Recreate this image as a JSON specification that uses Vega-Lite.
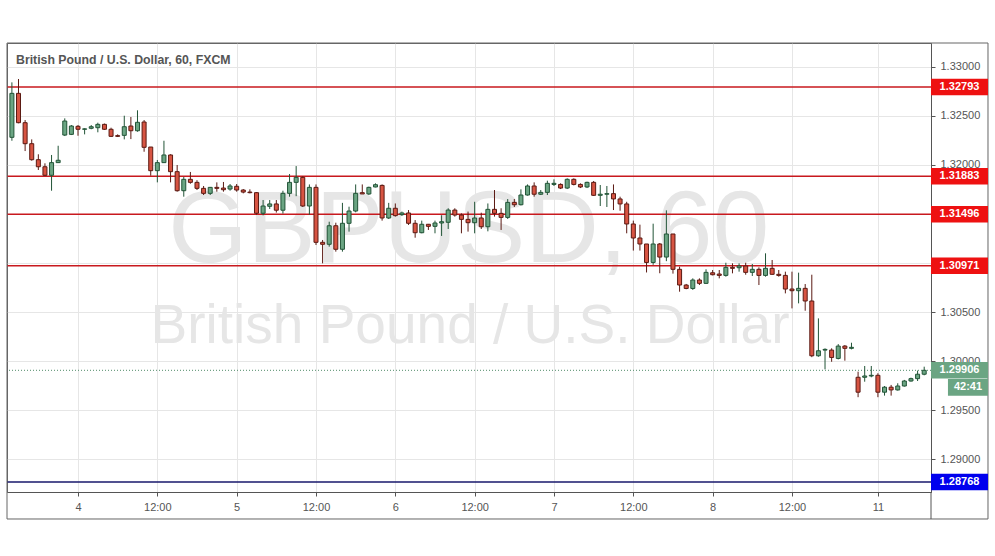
{
  "$schema": "https://vega.github.io/schema/vega-lite/v6.json",
  "width": 924,
  "height": 449,
  "autosize": {"type": "none"},
  "padding": {"left": 7, "top": 43, "right": 64, "bottom": 64},
  "background": "white",
  "config": {"view": {"stroke": "#666", "strokeWidth": 1}, "font": "Liberation Sans"},
  "title": {"text": "British Pound / U.S. Dollar, 60, FXCM", "anchor": "start", "frame": "group", "offset": -30, "baseline": "middle", "dx": 9, "fontSize": 12.3, "fontWeight": "bold", "color": "#555", "font": "Liberation Sans"},
  "datasets": {
    "candles": [
      {"i":0,"o":1.32280,"h":1.32840,"l":1.32245,"c":1.32728},
      {"i":1,"o":1.32728,"h":1.32874,"l":1.32423,"c":1.32429},
      {"i":2,"o":1.32429,"h":1.32456,"l":1.32140,"c":1.32215},
      {"i":3,"o":1.32215,"h":1.32259,"l":1.32042,"c":1.32052},
      {"i":4,"o":1.32052,"h":1.32107,"l":1.31947,"c":1.31980},
      {"i":5,"o":1.31980,"h":1.32015,"l":1.31886,"c":1.31893},
      {"i":6,"o":1.31893,"h":1.32100,"l":1.31736,"c":1.32022},
      {"i":7,"o":1.32022,"h":1.32194,"l":1.32020,"c":1.32046},
      {"i":8,"o":1.32303,"h":1.32473,"l":1.32293,"c":1.32446},
      {"i":9,"o":1.32310,"h":1.32405,"l":1.32303,"c":1.32395},
      {"i":10,"o":1.32392,"h":1.32405,"l":1.32296,"c":1.32362},
      {"i":11,"o":1.32362,"h":1.32372,"l":1.32310,"c":1.32366},
      {"i":12,"o":1.32372,"h":1.32405,"l":1.32362,"c":1.32388},
      {"i":13,"o":1.32378,"h":1.32429,"l":1.32331,"c":1.32412},
      {"i":14,"o":1.32412,"h":1.32420,"l":1.32355,"c":1.32362},
      {"i":15,"o":1.32362,"h":1.32378,"l":1.32283,"c":1.32290},
      {"i":16,"o":1.32297,"h":1.32310,"l":1.32283,"c":1.32290},
      {"i":17,"o":1.32300,"h":1.32500,"l":1.32259,"c":1.32388},
      {"i":18,"o":1.32395,"h":1.32487,"l":1.32262,"c":1.32347},
      {"i":19,"o":1.32347,"h":1.32555,"l":1.32337,"c":1.32433},
      {"i":20,"o":1.32436,"h":1.32456,"l":1.32133,"c":1.32178},
      {"i":21,"o":1.32181,"h":1.32181,"l":1.31889,"c":1.31940},
      {"i":22,"o":1.31940,"h":1.32049,"l":1.31821,"c":1.32022},
      {"i":23,"o":1.32022,"h":1.32245,"l":1.32020,"c":1.32100},
      {"i":24,"o":1.32100,"h":1.32107,"l":1.31821,"c":1.31930},
      {"i":25,"o":1.31930,"h":1.31998,"l":1.31726,"c":1.31736},
      {"i":26,"o":1.31736,"h":1.31876,"l":1.31675,"c":1.31852},
      {"i":27,"o":1.31852,"h":1.31927,"l":1.31807,"c":1.31821},
      {"i":28,"o":1.31821,"h":1.31843,"l":1.31743,"c":1.31760},
      {"i":29,"o":1.31760,"h":1.31784,"l":1.31692,"c":1.31709},
      {"i":30,"o":1.31709,"h":1.31774,"l":1.31692,"c":1.31770},
      {"i":31,"o":1.31770,"h":1.31821,"l":1.31726,"c":1.31760},
      {"i":32,"o":1.31763,"h":1.31825,"l":1.31726,"c":1.31746},
      {"i":33,"o":1.31753,"h":1.31804,"l":1.31736,"c":1.31784},
      {"i":34,"o":1.31781,"h":1.31804,"l":1.31726,"c":1.31743},
      {"i":35,"o":1.31743,"h":1.31753,"l":1.31709,"c":1.31722},
      {"i":36,"o":1.31722,"h":1.31750,"l":1.31709,"c":1.31716},
      {"i":37,"o":1.31716,"h":1.31722,"l":1.31492,"c":1.31506},
      {"i":38,"o":1.31506,"h":1.31641,"l":1.31485,"c":1.31580},
      {"i":39,"o":1.31577,"h":1.31641,"l":1.31550,"c":1.31601},
      {"i":40,"o":1.31601,"h":1.31641,"l":1.31513,"c":1.31537},
      {"i":41,"o":1.31537,"h":1.31736,"l":1.31503,"c":1.31709},
      {"i":42,"o":1.31709,"h":1.31906,"l":1.31675,"c":1.31821},
      {"i":43,"o":1.31821,"h":1.31987,"l":1.31680,"c":1.31872},
      {"i":44,"o":1.31872,"h":1.31883,"l":1.31570,"c":1.31580},
      {"i":45,"o":1.31580,"h":1.31800,"l":1.31492,"c":1.31770},
      {"i":46,"o":1.31770,"h":1.31800,"l":1.31183,"c":1.31210},
      {"i":47,"o":1.31210,"h":1.31234,"l":1.30996,"c":1.31190},
      {"i":48,"o":1.31190,"h":1.31420,"l":1.31166,"c":1.31379},
      {"i":49,"o":1.31379,"h":1.31410,"l":1.31115,"c":1.31139},
      {"i":50,"o":1.31139,"h":1.31612,"l":1.31115,"c":1.31404},
      {"i":51,"o":1.31404,"h":1.31573,"l":1.31319,"c":1.31529},
      {"i":52,"o":1.31529,"h":1.31800,"l":1.31516,"c":1.31709},
      {"i":53,"o":1.31716,"h":1.31800,"l":1.31703,"c":1.31703},
      {"i":54,"o":1.31703,"h":1.31777,"l":1.31692,"c":1.31770},
      {"i":55,"o":1.31774,"h":1.31811,"l":1.31770,"c":1.31797},
      {"i":56,"o":1.31790,"h":1.31800,"l":1.31431,"c":1.31458},
      {"i":57,"o":1.31458,"h":1.31612,"l":1.31448,"c":1.31557},
      {"i":58,"o":1.31557,"h":1.31606,"l":1.31472,"c":1.31482},
      {"i":59,"o":1.31492,"h":1.31523,"l":1.31478,"c":1.31509},
      {"i":60,"o":1.31509,"h":1.31539,"l":1.31387,"c":1.31404},
      {"i":61,"o":1.31404,"h":1.31437,"l":1.31257,"c":1.31308},
      {"i":62,"o":1.31308,"h":1.31431,"l":1.31302,"c":1.31394},
      {"i":63,"o":1.31394,"h":1.31397,"l":1.31336,"c":1.31373},
      {"i":64,"o":1.31373,"h":1.31431,"l":1.31302,"c":1.31407},
      {"i":65,"o":1.31407,"h":1.31486,"l":1.31275,"c":1.31420},
      {"i":66,"o":1.31414,"h":1.31557,"l":1.31346,"c":1.31539},
      {"i":67,"o":1.31539,"h":1.31557,"l":1.31472,"c":1.31488},
      {"i":68,"o":1.31488,"h":1.31505,"l":1.31302,"c":1.31444},
      {"i":69,"o":1.31444,"h":1.31523,"l":1.31319,"c":1.31410},
      {"i":70,"o":1.31410,"h":1.31623,"l":1.31302,"c":1.31458},
      {"i":71,"o":1.31458,"h":1.31512,"l":1.31346,"c":1.31369},
      {"i":72,"o":1.31369,"h":1.31606,"l":1.31322,"c":1.31546},
      {"i":73,"o":1.31546,"h":1.31743,"l":1.31472,"c":1.31505},
      {"i":74,"o":1.31505,"h":1.31557,"l":1.31336,"c":1.31464},
      {"i":75,"o":1.31464,"h":1.31651,"l":1.31448,"c":1.31617},
      {"i":76,"o":1.31617,"h":1.31651,"l":1.31570,"c":1.31593},
      {"i":77,"o":1.31593,"h":1.31750,"l":1.31586,"c":1.31692},
      {"i":78,"o":1.31692,"h":1.31800,"l":1.31686,"c":1.31784},
      {"i":79,"o":1.31784,"h":1.31821,"l":1.31675,"c":1.31700},
      {"i":80,"o":1.31700,"h":1.31743,"l":1.31692,"c":1.31719},
      {"i":81,"o":1.31719,"h":1.31838,"l":1.31692,"c":1.31811},
      {"i":82,"o":1.31800,"h":1.31852,"l":1.31784,"c":1.31811},
      {"i":83,"o":1.31800,"h":1.31811,"l":1.31753,"c":1.31763},
      {"i":84,"o":1.31763,"h":1.31862,"l":1.31753,"c":1.31852},
      {"i":85,"o":1.31852,"h":1.31862,"l":1.31790,"c":1.31800},
      {"i":86,"o":1.31800,"h":1.31811,"l":1.31763,"c":1.31774},
      {"i":87,"o":1.31774,"h":1.31828,"l":1.31763,"c":1.31821},
      {"i":88,"o":1.31821,"h":1.31835,"l":1.31682,"c":1.31689},
      {"i":89,"o":1.31689,"h":1.31794,"l":1.31580,"c":1.31700},
      {"i":90,"o":1.31700,"h":1.31784,"l":1.31570,"c":1.31706},
      {"i":91,"o":1.31706,"h":1.31800,"l":1.31539,"c":1.31652},
      {"i":92,"o":1.31652,"h":1.31675,"l":1.31532,"c":1.31601},
      {"i":93,"o":1.31601,"h":1.31623,"l":1.31302,"c":1.31397},
      {"i":94,"o":1.31397,"h":1.31431,"l":1.31126,"c":1.31254},
      {"i":95,"o":1.31254,"h":1.31390,"l":1.31126,"c":1.31193},
      {"i":96,"o":1.31193,"h":1.31193,"l":1.30903,"c":1.31005},
      {"i":97,"o":1.31005,"h":1.31400,"l":1.30981,"c":1.31193},
      {"i":98,"o":1.31193,"h":1.31203,"l":1.30895,"c":1.31060},
      {"i":99,"o":1.31060,"h":1.31536,"l":1.31018,"c":1.31295},
      {"i":100,"o":1.31295,"h":1.31295,"l":1.30891,"c":1.30935},
      {"i":101,"o":1.30935,"h":1.30962,"l":1.30707,"c":1.30775},
      {"i":102,"o":1.30775,"h":1.30786,"l":1.30732,"c":1.30740},
      {"i":103,"o":1.30740,"h":1.30843,"l":1.30725,"c":1.30826},
      {"i":104,"o":1.30826,"h":1.30843,"l":1.30775,"c":1.30792},
      {"i":105,"o":1.30792,"h":1.30935,"l":1.30786,"c":1.30904},
      {"i":106,"o":1.30900,"h":1.30928,"l":1.30873,"c":1.30880},
      {"i":107,"o":1.30887,"h":1.30928,"l":1.30843,"c":1.30873},
      {"i":108,"o":1.30873,"h":1.31002,"l":1.30860,"c":1.30955},
      {"i":109,"o":1.30955,"h":1.30996,"l":1.30894,"c":1.30945},
      {"i":110,"o":1.30951,"h":1.30996,"l":1.30911,"c":1.30969},
      {"i":111,"o":1.30969,"h":1.31002,"l":1.30880,"c":1.30904},
      {"i":112,"o":1.30904,"h":1.30989,"l":1.30867,"c":1.30935},
      {"i":113,"o":1.30935,"h":1.30955,"l":1.30775,"c":1.30873},
      {"i":114,"o":1.30873,"h":1.31098,"l":1.30860,"c":1.30945},
      {"i":115,"o":1.30945,"h":1.31030,"l":1.30880,"c":1.30884},
      {"i":116,"o":1.30884,"h":1.30928,"l":1.30860,"c":1.30873},
      {"i":117,"o":1.30873,"h":1.30911,"l":1.30690,"c":1.30734},
      {"i":118,"o":1.30734,"h":1.30911,"l":1.30537,"c":1.30717},
      {"i":119,"o":1.30717,"h":1.30901,"l":1.30588,"c":1.30741},
      {"i":120,"o":1.30741,"h":1.30785,"l":1.30513,"c":1.30612},
      {"i":121,"o":1.30612,"h":1.30880,"l":1.30040,"c":1.30054},
      {"i":122,"o":1.30054,"h":1.30435,"l":1.30044,"c":1.30105},
      {"i":123,"o":1.30112,"h":1.30130,"l":1.29916,"c":1.30119},
      {"i":124,"o":1.30112,"h":1.30130,"l":1.29993,"c":1.30037},
      {"i":125,"o":1.30027,"h":1.30173,"l":1.30017,"c":1.30153},
      {"i":126,"o":1.30153,"h":1.30163,"l":1.30004,"c":1.30130},
      {"i":127,"o":1.30130,"h":1.30187,"l":1.30119,"c":1.30140},
      {"i":128,"o":1.29835,"h":1.29892,"l":1.29632,"c":1.29683},
      {"i":129,"o":1.29835,"h":1.29950,"l":1.29790,"c":1.29848},
      {"i":130,"o":1.29848,"h":1.29950,"l":1.29835,"c":1.29855},
      {"i":131,"o":1.29855,"h":1.29876,"l":1.29632,"c":1.29683},
      {"i":132,"o":1.29683,"h":1.29746,"l":1.29648,"c":1.29734},
      {"i":133,"o":1.29734,"h":1.29757,"l":1.29648,"c":1.29706},
      {"i":134,"o":1.29706,"h":1.29774,"l":1.29699,"c":1.29746},
      {"i":135,"o":1.29746,"h":1.29808,"l":1.29740,"c":1.29797},
      {"i":136,"o":1.29797,"h":1.29831,"l":1.29790,"c":1.29821},
      {"i":137,"o":1.29821,"h":1.29903,"l":1.29797,"c":1.29866},
      {"i":138,"o":1.29866,"h":1.29943,"l":1.29855,"c":1.29906}
    ],
    "levels": [
      {"price":1.32793,"kind":"res"},
      {"price":1.31883,"kind":"res"},
      {"price":1.31496,"kind":"res"},
      {"price":1.30971,"kind":"res"},
      {"price":1.28768,"kind":"sup"},
      {"price":1.29906,"kind":"last"}
    ]
  },
  "layer": [
    {
      "data": {"name": "candles"},
      "mark": {"type": "rule", "strokeWidth": 1, "opacity": 0},
      "encoding": {
        "x": {"field": "i", "type": "quantitative", "scale": {"domain": [-0.74, 139.03], "nice": false, "zero": false, "padding": 0},
          "axis": {"orient": "bottom", "values": [10,22,34,46,58,70,82,94,106,118,131], "labelExpr": "datum.value == 10 ? '4' : datum.value == 34 ? '5' : datum.value == 58 ? '6' : datum.value == 82 ? '7' : datum.value == 106 ? '8' : datum.value == 131 ? '11' : '12:00'", "title": null, "grid": true, "gridColor": "#e6e6e6", "tickSize": 4, "tickColor": "#555", "domainColor": "#555", "labelColor": "#555", "labelFontSize": 11, "labelPadding": 5, "labelFont": "Liberation Sans", "labelFlush": false, "labelOverlap": false}},
        "y": {"field": "l", "type": "quantitative", "scale": {"domain": [1.28666, 1.33241], "nice": false, "zero": false, "padding": 0},
          "axis": {"orient": "right", "values": [1.29,1.295,1.3,1.305,1.31,1.315,1.32,1.325,1.33], "labelExpr": "(abs(datum.value - 1.31) < 0.0001 || abs(datum.value - 1.315) < 0.0001) ? '' : format(datum.value, '.5f')", "title": null, "grid": true, "gridColor": "#e6e6e6", "tickSize": 4, "tickColor": "#555", "domainColor": "#555", "labelColor": "#555", "labelFontSize": 11, "labelPadding": 5, "labelFont": "Liberation Sans", "labelFlush": false, "labelOverlap": false}},
        "y2": {"field": "h"}
      }
    },
    {
      "data": {"values": [{}]},
      "mark": {"type": "text", "fontSize": 102, "color": "#e6e6e6", "align": "center", "baseline": "alphabetic", "font": "Liberation Sans"},
      "encoding": {
        "x": {"datum": 69.1, "type": "quantitative"},
        "y": {"datum": 1.3101, "type": "quantitative"},
        "text": {"value": "GBPUSD, 60"}
      }
    },
    {
      "data": {"values": [{}]},
      "mark": {"type": "text", "fontSize": 55, "color": "#e6e6e6", "align": "center", "baseline": "alphabetic", "font": "Liberation Sans"},
      "encoding": {
        "x": {"datum": 69.3, "type": "quantitative"},
        "y": {"datum": 1.30184, "type": "quantitative"},
        "text": {"value": "British Pound / U.S. Dollar"}
      }
    },
    {
      "data": {"name": "levels"},
      "transform": [{"filter": "datum.kind != 'last'"}],
      "mark": {"type": "rule", "strokeWidth": 1.5},
      "encoding": {
        "y": {"field": "price", "type": "quantitative"},
        "stroke": {"condition": {"test": "datum.kind == 'res'", "value": "#c8191e"}, "value": "#17176b"}
      }
    },
    {
      "data": {"name": "levels"},
      "transform": [{"filter": "datum.kind == 'last'"}],
      "mark": {"type": "rule", "strokeWidth": 1, "strokeDash": [1, 2], "color": "#4f8a68"},
      "encoding": {
        "y": {"field": "price", "type": "quantitative"}
      }
    },
    {
      "data": {"name": "candles"},
      "mark": {"type": "rule", "strokeWidth": 1},
      "encoding": {
        "x": {"field": "i", "type": "quantitative"},
        "y": {"field": "l", "type": "quantitative"},
        "y2": {"field": "h"},
        "stroke": {"condition": {"test": "datum.c >= datum.o", "value": "#225437"}, "value": "#5b1a13"}
      }
    },
    {
      "data": {"name": "candles"},
      "mark": {"type": "bar", "width": 4, "strokeWidth": 1},
      "encoding": {
        "x": {"field": "i", "type": "quantitative"},
        "y": {"field": "o", "type": "quantitative"},
        "y2": {"field": "c"},
        "fill": {"condition": {"test": "datum.c >= datum.o", "value": "#6ba583"}, "value": "#d75442"},
        "stroke": {"condition": {"test": "datum.c >= datum.o", "value": "#225437"}, "value": "#5b1a13"}
      }
    },
    {
      "data": {"values": [{}]},
      "mark": {"type": "rect", "fill": null, "stroke": "#666", "strokeWidth": 1},
      "encoding": {
        "x": {"datum": -0.74, "type": "quantitative"},
        "x2": {"datum": 147.65},
        "y": {"datum": 1.28391, "type": "quantitative"},
        "y2": {"datum": 1.33241}
      }
    },
    {
      "data": {"values": [{}]},
      "mark": {"type": "rule", "stroke": "#555", "strokeWidth": 1},
      "encoding": {
        "x": {"datum": 139.03, "type": "quantitative"},
        "y": {"datum": 1.28391, "type": "quantitative"},
        "y2": {"datum": 1.28666}
      }
    },
    {
      "data": {"name": "levels"},
      "mark": {"type": "tick", "orient": "horizontal", "size": 57, "thickness": 16.6, "opacity": 1},
      "encoding": {
        "x": {"datum": 143.34, "type": "quantitative"},
        "y": {"field": "price", "type": "quantitative"},
        "fill": {"condition": [{"test": "datum.kind == 'res'", "value": "#ee1111"}, {"test": "datum.kind == 'sup'", "value": "#0000ee"}], "value": "#6ba583"}
      }
    },
    {
      "data": {"name": "levels"},
      "mark": {"type": "text", "color": "white", "fontWeight": "bold", "fontSize": 11, "align": "center", "baseline": "middle", "font": "Liberation Sans"},
      "encoding": {
        "x": {"datum": 143.34, "type": "quantitative"},
        "y": {"field": "price", "type": "quantitative"},
        "text": {"field": "price", "type": "quantitative", "format": ".5f"}
      }
    },
    {
      "data": {"values": [{}]},
      "mark": {"type": "tick", "orient": "horizontal", "size": 40, "thickness": 16.7, "color": "#6ba583", "opacity": 1},
      "encoding": {
        "x": {"datum": 144.62, "type": "quantitative"},
        "y": {"datum": 1.29733, "type": "quantitative"}
      }
    },
    {
      "data": {"values": [{}]},
      "mark": {"type": "text", "color": "white", "fontWeight": "bold", "fontSize": 11, "align": "center", "baseline": "middle", "font": "Liberation Sans"},
      "encoding": {
        "x": {"datum": 144.62, "type": "quantitative"},
        "y": {"datum": 1.29733, "type": "quantitative"},
        "text": {"value": "42:41"}
      }
    }
  ]
}
